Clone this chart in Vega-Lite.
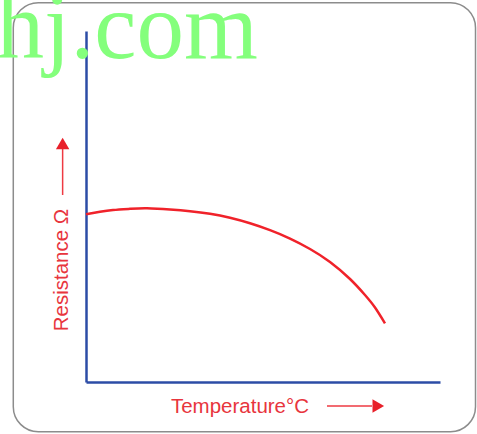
{
  "$schema": "https://vega.github.io/schema/vega-lite/v6.json",
  "width": 354,
  "height": 351,
  "autosize": {"type": "none"},
  "padding": {"left": 86, "top": 31, "right": 37, "bottom": 52},
  "background": "white",
  "config": {"view": {"stroke": null}},
  "datasets": {
    "curve": [
      {"temperature": 0, "resistance": 47.78},
      {"temperature": 3.95, "resistance": 48.49},
      {"temperature": 7.63, "resistance": 49.0},
      {"temperature": 12.43, "resistance": 49.34},
      {"temperature": 17.23, "resistance": 49.49},
      {"temperature": 23.73, "resistance": 49.15},
      {"temperature": 29.38, "resistance": 48.66},
      {"temperature": 35.03, "resistance": 47.92},
      {"temperature": 40.68, "resistance": 46.78},
      {"temperature": 46.33, "resistance": 45.21},
      {"temperature": 51.98, "resistance": 43.25},
      {"temperature": 57.63, "resistance": 40.85},
      {"temperature": 63.28, "resistance": 37.89},
      {"temperature": 68.93, "resistance": 34.19},
      {"temperature": 74.58, "resistance": 29.34},
      {"temperature": 78.81, "resistance": 24.79},
      {"temperature": 81.64, "resistance": 21.23},
      {"temperature": 84.46, "resistance": 16.72}
    ],
    "frame": [{"x1": -20.54, "x2": 110.03, "y1": 108.06, "y2": -14.16}],
    "watermark": [{"x": -25.25, "y": 92.45, "label": "hj.com"}],
    "labels": [
      {"x": 43.5, "y": -8.75, "label": "Temperature°C", "angle": 0},
      {"x": -5.0, "y": 31.9, "label": "Resistance Ω", "angle": 270}
    ],
    "arrowLines": [
      {"x1": 68.08, "x2": 80.79, "y1": -6.84, "y2": -6.84},
      {"x1": -6.6, "x2": -6.6, "y1": 53.28, "y2": 66.38}
    ],
    "arrowHeads": [
      {"x": 82.57, "y": -6.84, "dir": "triangle-right"},
      {"x": -6.6, "y": 67.95, "dir": "triangle-up"}
    ]
  },
  "encoding": {},
  "layer": [
    {
      "data": {"name": "frame"},
      "mark": {"type": "rect", "fill": null, "stroke": "#8c8c8c", "strokeWidth": 1.5, "cornerRadius": 25},
      "encoding": {
        "x": {"field": "x1", "type": "quantitative", "scale": {"domain": [0, 100], "nice": false, "zero": false}, "axis": {"domainColor": "#2c4ca6", "domainWidth": 2.5, "ticks": false, "labels": false, "title": null, "grid": false}},
        "x2": {"field": "x2"},
        "y": {"field": "y1", "type": "quantitative", "scale": {"domain": [0, 100], "nice": false, "zero": false}, "axis": {"domainColor": "#2c4ca6", "domainWidth": 2.5, "ticks": false, "labels": false, "title": null, "grid": false}},
        "y2": {"field": "y2"}
      }
    },
    {
      "data": {"name": "watermark"},
      "mark": {"type": "text", "font": "Liberation Serif", "fontSize": 95, "color": "#84ff7c", "align": "left", "baseline": "alphabetic"},
      "encoding": {
        "x": {"field": "x", "type": "quantitative"},
        "y": {"field": "y", "type": "quantitative"},
        "text": {"field": "label"}
      }
    },
    {
      "data": {"name": "curve"},
      "mark": {"type": "line", "color": "#f0222a", "strokeWidth": 2.5, "interpolate": "natural"},
      "encoding": {
        "x": {"field": "temperature", "type": "quantitative"},
        "y": {"field": "resistance", "type": "quantitative"}
      }
    },
    {
      "data": {"name": "labels"},
      "mark": {"type": "text", "font": "Liberation Sans", "fontSize": 20.5, "color": "#e8353d", "align": "center", "baseline": "alphabetic"},
      "encoding": {
        "x": {"field": "x", "type": "quantitative"},
        "y": {"field": "y", "type": "quantitative"},
        "text": {"field": "label"},
        "angle": {"field": "angle", "type": "quantitative", "scale": null}
      }
    },
    {
      "data": {"name": "arrowLines"},
      "mark": {"type": "rule", "color": "#ee3a42", "strokeWidth": 1.5},
      "encoding": {
        "x": {"field": "x1", "type": "quantitative"},
        "x2": {"field": "x2"},
        "y": {"field": "y1", "type": "quantitative"},
        "y2": {"field": "y2"}
      }
    },
    {
      "data": {"name": "arrowHeads"},
      "mark": {"type": "point", "filled": true, "color": "#e8202a", "size": 180, "opacity": 1},
      "encoding": {
        "x": {"field": "x", "type": "quantitative"},
        "y": {"field": "y", "type": "quantitative"},
        "shape": {"field": "dir", "type": "nominal", "scale": null}
      }
    }
  ]
}
